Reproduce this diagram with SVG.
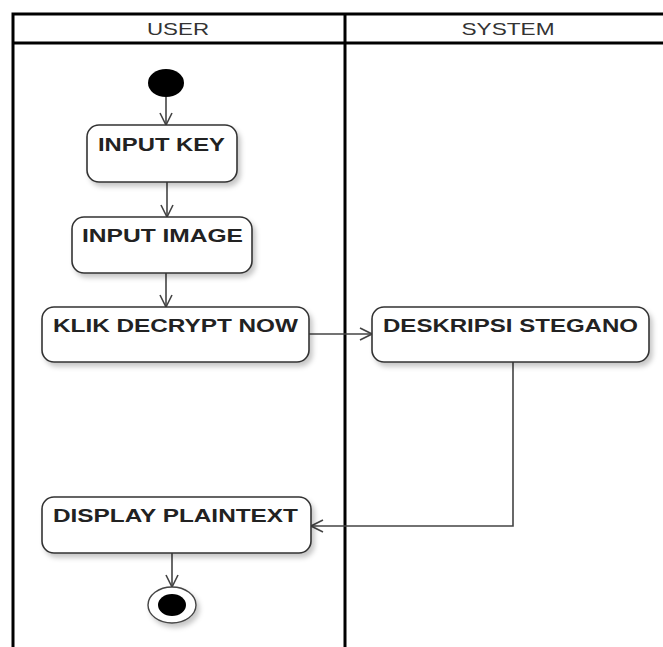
<svg xmlns="http://www.w3.org/2000/svg" width="663" height="647" viewBox="0 0 663 647">
<style>
.lane{stroke:#000;stroke-width:3;fill:none}
.hd{font-family:"Liberation Sans",Arial,sans-serif;font-size:17px;fill:#333;text-anchor:middle}
.box{fill:#fff;stroke:#333;stroke-width:1.6;filter:url(#sh)}
.lbl{font-family:"Liberation Sans",Arial,sans-serif;font-weight:bold;font-size:19px;fill:#222}
.cn{stroke:#444;stroke-width:1.6;fill:none}
</style>
<defs>
<filter id="sh" x="-10%" y="-10%" width="130%" height="140%">
<feDropShadow dx="3" dy="4" stdDeviation="2.5" flood-color="#000" flood-opacity="0.22"/>
</filter>
<marker id="arr" markerWidth="14" markerHeight="14" refX="13" refY="7" orient="auto" markerUnits="userSpaceOnUse">
<path d="M1,1 L13,7 L1,13" fill="none" stroke="#444" stroke-width="1.6"/>
</marker>
</defs>
<rect width="663" height="647" fill="#fff"/>
<g id="swimlanes">
<path class="lane" d="M13,647 V14 H663 M13,43 H663 M345,14 V647"/>
<text class="hd" x="178" y="35" textLength="62" lengthAdjust="spacingAndGlyphs">USER</text>
<text class="hd" x="508" y="35" textLength="93" lengthAdjust="spacingAndGlyphs">SYSTEM</text>
</g>
<g id="connectors">
<path class="cn" d="M166,97 V125" marker-end="url(#arr)"/>
<path class="cn" d="M167,182 V217" marker-end="url(#arr)"/>
<path class="cn" d="M166,273 V307" marker-end="url(#arr)"/>
<path class="cn" d="M309,334 H372" marker-end="url(#arr)"/>
<path class="cn" d="M513,362 V526 H311" marker-end="url(#arr)"/>
<path class="cn" d="M172,553 V587" marker-end="url(#arr)"/>
</g>
<g id="start">
<ellipse cx="166" cy="83" rx="18" ry="14" fill="#000"/>
</g>
<g id="input-key">
<rect class="box" x="87" y="125" width="150" height="57" rx="12"/>
<text class="lbl" x="98" y="151" textLength="127" lengthAdjust="spacingAndGlyphs">INPUT KEY</text>
</g>
<g id="input-image">
<rect class="box" x="72" y="217" width="180" height="56" rx="12"/>
<text class="lbl" x="82" y="242" textLength="161" lengthAdjust="spacingAndGlyphs">INPUT IMAGE</text>
</g>
<g id="klik-decrypt-now">
<rect class="box" x="42" y="307" width="267" height="55" rx="12"/>
<text class="lbl" x="53" y="332" textLength="245" lengthAdjust="spacingAndGlyphs">KLIK DECRYPT NOW</text>
</g>
<g id="deskripsi-stegano">
<rect class="box" x="372" y="307" width="277" height="55" rx="12"/>
<text class="lbl" x="383" y="332" textLength="255" lengthAdjust="spacingAndGlyphs">DESKRIPSI STEGANO</text>
</g>
<g id="display-plaintext">
<rect class="box" x="42" y="497" width="269" height="56" rx="12"/>
<text class="lbl" x="53" y="522" textLength="245" lengthAdjust="spacingAndGlyphs">DISPLAY PLAINTEXT</text>
</g>
<g id="end">
<ellipse cx="172" cy="605" rx="24" ry="18" fill="#fff" stroke="#444" stroke-width="1.4" filter="url(#sh)"/>
<ellipse cx="172" cy="605" rx="14" ry="11" fill="#000"/>
</g>
</svg>
